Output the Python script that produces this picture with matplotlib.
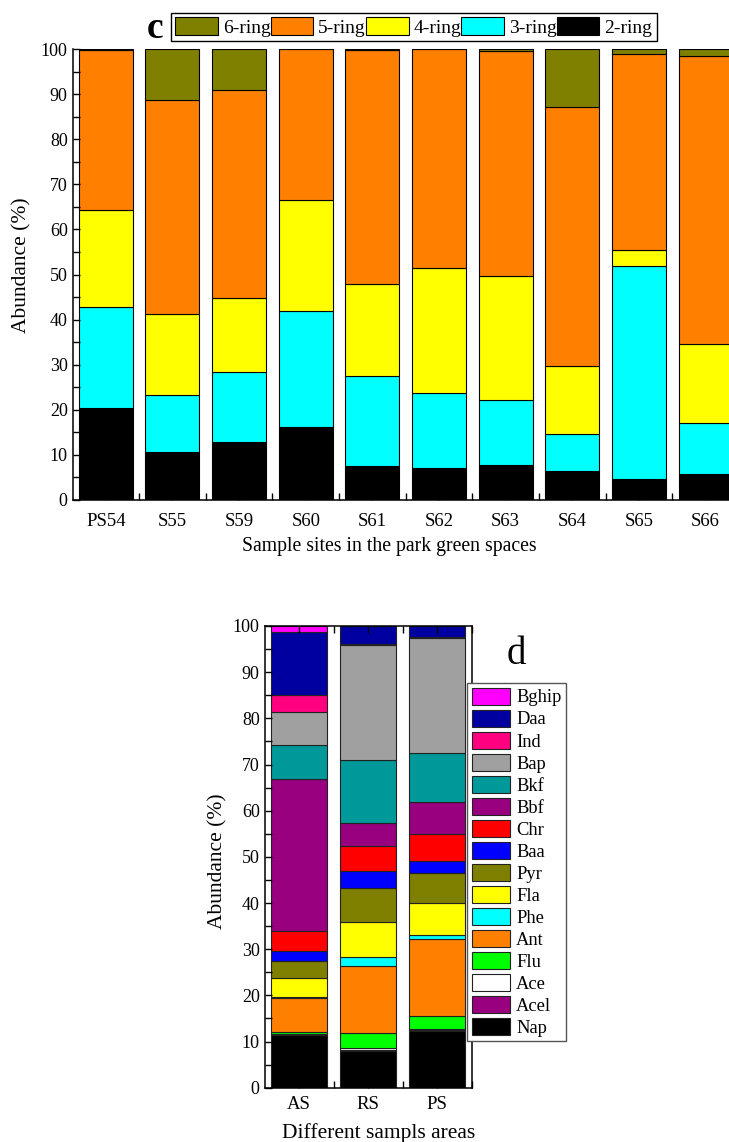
import matplotlib.pyplot as plt
from matplotlib.ticker import MultipleLocator
import numpy as np

plt.rcParams['font.family'] = 'Liberation Serif'
plt.rcParams['axes.linewidth'] = 1.1

# (c) ring-number composition at the park sites (%)
sites = ["PS54", "S55", "S59", "S60", "S61", "S62", "S63", "S64", "S65", "S66"]
ring2 = [20.5, 10.6, 12.8, 16.1, 7.5, 7.0, 7.7, 6.5, 4.6, 5.8]
ring3 = [22.2, 12.6, 15.5, 25.9, 20.0, 16.8, 14.5, 8.2, 47.2, 11.2]
ring4 = [21.6, 18.0, 16.4, 24.6, 20.5, 27.7, 27.4, 15.0, 3.7, 17.7]
ring5 = [35.5, 47.6, 46.1, 33.3, 51.8, 48.4, 50.0, 57.4, 43.3, 63.7]
ring6 = [0.2, 11.2, 9.2, 0.1, 0.2, 0.1, 0.4, 12.9, 1.2, 1.6]
ring_names = ["2-ring", "3-ring", "4-ring", "5-ring", "6-ring"]
ring_colors = ["#000000", "#00FFFF", "#FFFF00", "#FF8000", "#808000"]

# (d) individual PAHs by area (%), order Nap ... Bghip
areas = ["AS", "RS", "PS"]
pah_names = ["Nap", "Acel", "Ace", "Flu", "Ant", "Phe", "Fla", "Pyr",
             "Baa", "Chr", "Bbf", "Bkf", "Bap", "Ind", "Daa", "Bghip"]
pah_colors = ["#000000", "#990080", "#FFFFFF", "#00FF00", "#FF8000", "#00FFFF",
              "#FFFF00", "#808000", "#0000FF", "#FF0000", "#990080", "#009999",
              "#A0A0A0", "#FF0080", "#0000A0", "#FF00FF"]
as_vals = [11.4, 0.1, 0.1, 0.5, 7.4, 0.2, 4.0, 3.7, 2.2, 4.4, 32.9, 7.3, 7.1, 3.8, 13.6, 1.3]
rs_vals = [8.0, 0.2, 0.4, 3.2, 14.5, 2.1, 7.4, 7.4, 3.7, 5.4, 5.1, 13.6, 24.9, 0.3, 3.8, 0.0]
ps_vals = [12.3, 0.1, 0.4, 2.8, 16.5, 0.9, 7.1, 6.5, 2.5, 5.8, 6.9, 10.8, 24.9, 0.1, 2.4, 0.0]

W, H = 729, 1142
fig = plt.figure(figsize=(W / 100, H / 100), dpi=100)

# ---- panel c ----
ax1 = fig.add_axes([72.5 / W, 1 - 500 / H, 666.5 / W, 451 / H])
x = np.arange(len(sites))
bottom = np.zeros(len(sites))
for name, vals, col in zip(ring_names, [ring2, ring3, ring4, ring5, ring6], ring_colors):
    ax1.bar(x, vals, 0.81, bottom=bottom, color=col, edgecolor='black',
            linewidth=0.8, label=name)
    bottom += np.array(vals)

ax1.set_xlim(-0.5, len(sites) - 0.5)
ax1.set_ylim(0, 100)
ax1.set_xticks(x)
ax1.set_xticklabels(sites)
ax1.set_xticks(x + 0.5, minor=True)
ax1.yaxis.set_major_locator(MultipleLocator(10))
ax1.yaxis.set_minor_locator(MultipleLocator(5))
ax1.tick_params(which='both', direction='in', length=5, width=1, labelsize=13)
ax1.tick_params(axis='x', labelsize=13.5, pad=9.5)
ax1.spines['top'].set_visible(False)
ax1.set_ylabel("Abundance (%)", fontsize=15.5, va='center')
ax1.yaxis.set_label_coords(-0.076, 0.52)
ax1.set_xlabel("Sample sites in the park green spaces", fontsize=14.2, va='center')
ax1.xaxis.set_label_coords(0.475, -0.104)

h, l = ax1.get_legend_handles_labels()
leg1 = ax1.legend(h[::-1], l[::-1], ncol=5, loc='upper left',
                  bbox_to_anchor=(171 / W, 1 - 13 / H), bbox_transform=fig.transFigure,
                  fontsize=14, fancybox=False, edgecolor='black', framealpha=1,
                  borderpad=0.22, borderaxespad=0, handlelength=2.2, handleheight=1.0,
                  handletextpad=0.25, columnspacing=0.0)
leg1.get_frame().set_linewidth(1.0)
fig.text(155 / W, 1 - 28 / H, "c", fontsize=27, fontweight='bold', ha='center', va='center')

# ---- panel d ----
ax2 = fig.add_axes([264.5 / W, 1 - 1087.7 / H, 207 / W, 461.7 / H])
xa = np.arange(len(areas))
table = np.array([as_vals, rs_vals, ps_vals])
bottom = np.zeros(len(areas))
for i, (name, col) in enumerate(zip(pah_names, pah_colors)):
    ax2.bar(xa, table[:, i], 0.81, bottom=bottom, color=col, edgecolor='#222222',
            linewidth=0.8, label=name)
    bottom += table[:, i]

ax2.set_xlim(-0.5, len(areas) - 0.5)
ax2.set_ylim(0, 100)
ax2.set_xticks(xa)
ax2.set_xticklabels(areas)
ax2.set_xticks(xa + 0.5, minor=True)
ax2.yaxis.set_major_locator(MultipleLocator(10))
ax2.yaxis.set_minor_locator(MultipleLocator(5))
ax2.tick_params(which='both', direction='in', length=5, width=1, labelsize=13)
ax2.tick_params(axis='x', which='both', top=True, labelsize=13.5, pad=6)
ax2.set_ylabel("Abundance (%)", fontsize=15.5, va='center')
ax2.yaxis.set_label_coords(-0.225, 0.49)
ax2.set_xlabel("Different sampls areas", fontsize=15.5, va='center')
ax2.xaxis.set_label_coords(0.55, -0.098)

h, l = ax2.get_legend_handles_labels()
leg2 = ax2.legend(h[::-1], l[::-1], loc='upper left',
                  bbox_to_anchor=(467 / W, 1 - 683 / H), bbox_transform=fig.transFigure,
                  fontsize=13.3, fancybox=False, edgecolor='#555555', framealpha=1,
                  borderpad=0.25, borderaxespad=0, handlelength=2.1, handleheight=1.05,
                  handletextpad=0.3, labelspacing=0.17)
leg2.get_frame().set_linewidth(1.0)
fig.text(516 / W, 1 - 655 / H, "d", fontsize=28, ha='center', va='center')

fig.savefig("out.png", dpi=100)
